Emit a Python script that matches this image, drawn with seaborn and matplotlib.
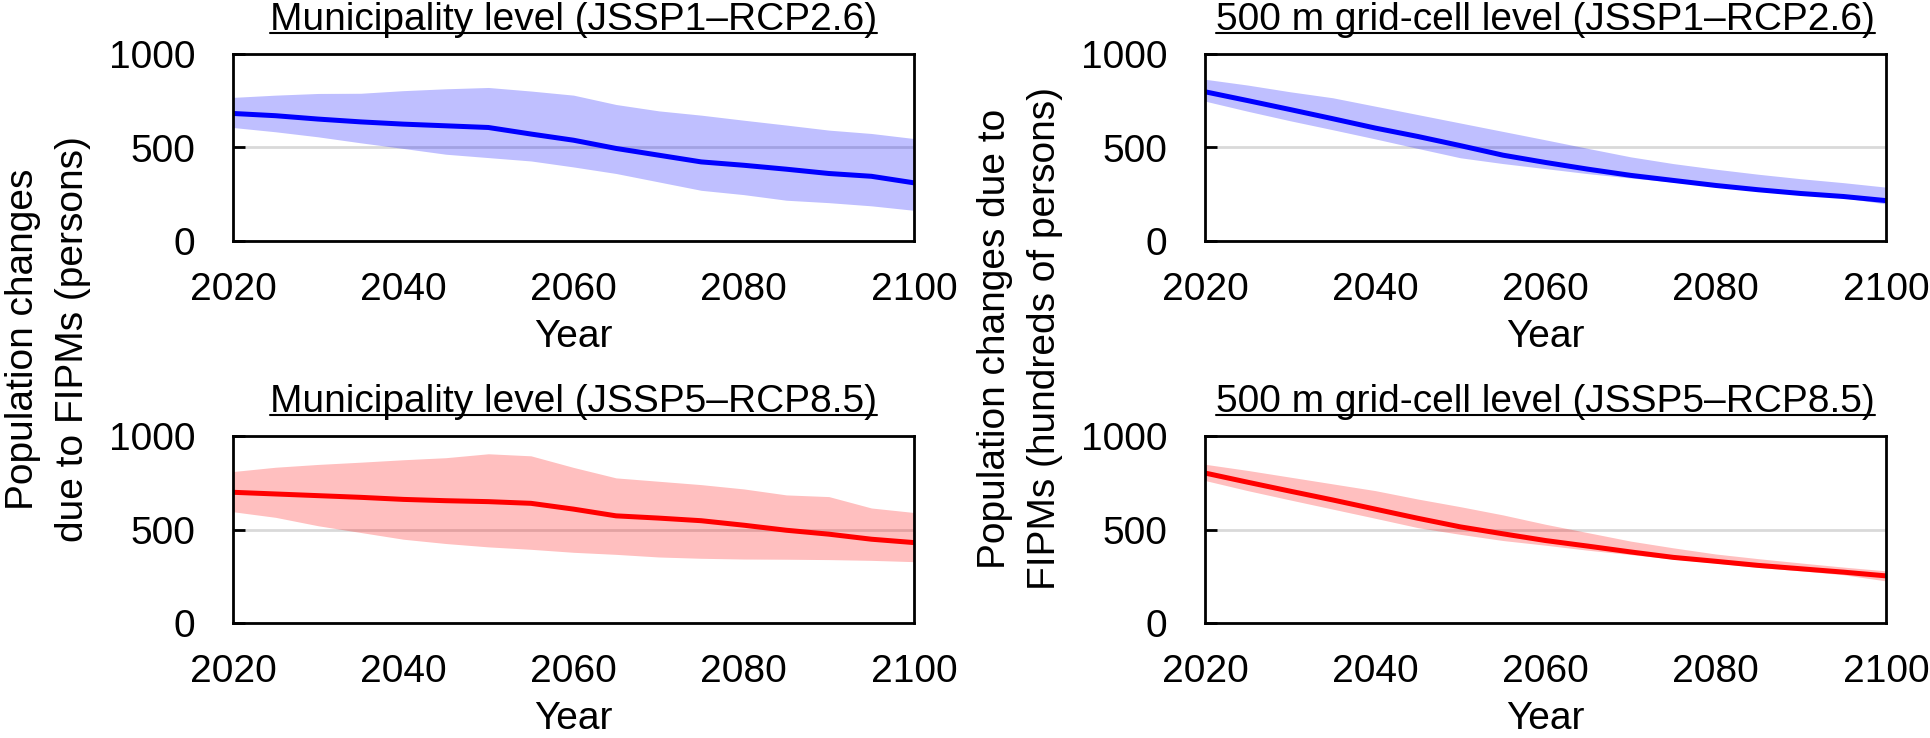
import numpy as np
import pandas as pd
import matplotlib
matplotlib.use('Agg')
import matplotlib.pyplot as plt
from matplotlib.lines import Line2D
import seaborn as sns

# Jahre (5-Jahres-Schritte)
years = list(range(2020, 2101, 5))

# Municipality level, JSSP1-RCP2.6 (persons)
muni_ssp1_mean = [682, 670, 652, 637, 625, 616, 607, 572, 539, 495, 459, 423, 405, 384, 361, 346, 311]
muni_ssp1_upper = [768, 780, 789, 790, 804, 814, 821, 802, 780, 730, 696, 673, 646, 620, 593, 575, 548]
muni_ssp1_lower = [607, 584, 557, 525, 495, 464, 446, 428, 396, 361, 316, 271, 248, 218, 205, 188, 164]

# 500 m grid-cell level, JSSP1-RCP2.6 (hundreds of persons)
grid_ssp1_mean = [798, 751, 703, 654, 604, 559, 510, 459, 420, 384, 351, 324, 297, 274, 254, 238, 216]
grid_ssp1_upper = [865, 834, 798, 766, 721, 676, 631, 586, 541, 495, 450, 414, 384, 357, 333, 312, 288]
grid_ssp1_lower = [748, 694, 643, 595, 546, 495, 445, 414, 387, 360, 337, 315, 294, 268, 249, 231, 198]

# Municipality level, JSSP5-RCP8.5 (persons)
muni_ssp5_mean = [699, 690, 681, 672, 661, 654, 649, 640, 609, 573, 561, 547, 523, 496, 475, 448, 430]
muni_ssp5_upper = [810, 833, 848, 860, 873, 884, 905, 894, 832, 776, 758, 740, 717, 685, 676, 615, 591]
muni_ssp5_lower = [595, 565, 520, 484, 448, 425, 407, 394, 378, 367, 353, 346, 342, 341, 339, 335, 328]

# 500 m grid-cell level, JSSP5-RCP8.5 (hundreds of persons)
grid_ssp5_mean = [802, 753, 705, 658, 609, 560, 514, 477, 441, 411, 380, 351, 330, 308, 290, 272, 252]
grid_ssp5_upper = [849, 816, 780, 744, 708, 663, 622, 578, 528, 483, 438, 402, 369, 344, 321, 299, 279]
grid_ssp5_lower = [762, 708, 658, 609, 560, 510, 474, 441, 416, 389, 366, 342, 321, 297, 279, 258, 225]

titles = ['Municipality level (JSSP1\u2013RCP2.6)', '500 m grid-cell level (JSSP1\u2013RCP2.6)',
          'Municipality level (JSSP5\u2013RCP8.5)', '500 m grid-cell level (JSSP5\u2013RCP8.5)']

sns.set_style('ticks')
plt.rcParams['font.family'] = ['Liberation Sans', 'DejaVu Sans']
plt.rcParams['font.size'] = 28
plt.rcParams['text.color'] = 'black'
plt.rcParams['axes.labelcolor'] = 'black'
plt.rcParams['xtick.color'] = 'black'
plt.rcParams['ytick.color'] = 'black'

W, H = 1931, 738
fig = plt.figure(figsize=(W / 100, H / 100), dpi=100)

# Achsenpositionen (Pixel des Originals)
col_x = [233 / W, 1205 / W]
col_w = 681 / W
row_y = [1 - 241 / H, 1 - 623 / H]
row_h = 187 / H

panels = [
    (0, 0, muni_ssp1_mean, muni_ssp1_lower, muni_ssp1_upper, 'blue'),
    (0, 1, grid_ssp1_mean, grid_ssp1_lower, grid_ssp1_upper, 'blue'),
    (1, 0, muni_ssp5_mean, muni_ssp5_lower, muni_ssp5_upper, 'red'),
    (1, 1, grid_ssp5_mean, grid_ssp5_lower, grid_ssp5_upper, 'red'),
]

axes = []
for i, (r, c, mean, lo, hi, col) in enumerate(panels):
    ax = fig.add_axes([col_x[c], row_y[r], col_w, row_h])
    df = pd.DataFrame({'Year': years, 'mean': mean, 'lo': lo, 'hi': hi})
    ax.set_axisbelow(True)
    ax.yaxis.grid(True, color='#d9d9d9', linewidth=2)
    ax.fill_between(df['Year'], df['lo'], df['hi'], color=col, alpha=0.25, linewidth=0)
    sns.lineplot(data=df, x='Year', y='mean', color=col, linewidth=3.6, ax=ax)
    ax.set_xlim(2020, 2100)
    ax.set_ylim(0, 1000)
    ax.set_xticks([2020, 2040, 2060, 2080, 2100])
    ax.set_yticks([0, 500, 1000])
    ax.tick_params(axis='x', length=0, pad=22, labelsize=28, colors='black')
    ax.tick_params(axis='y', direction='in', length=8.5, width=2, pad=27, labelsize=28, colors='black')
    for s in ax.spines.values():
        s.set_linewidth(2)
        s.set_color('black')
    ax.set_xlabel('Year', fontsize=28, labelpad=8, color='black')
    ax.set_ylabel('')
    ax.set_title(titles[i], fontsize=28, pad=17, color='black')
    axes.append(ax)

fig.text(48 / W, 1 - 339 / H, 'Population changes\ndue to FIPMs (persons)',
         rotation=90, ha='center', va='center', multialignment='center',
         fontsize=28, linespacing=1.5, color='black')
fig.text(1020 / W, 1 - 339 / H, 'Population changes due to\nFIPMs (hundreds of persons)',
         rotation=90, ha='center', va='center', multialignment='center',
         fontsize=28, linespacing=1.5, color='black')

# Titel unterstreichen
fig.canvas.draw()
rend = fig.canvas.get_renderer()
for ax in axes:
    bb = ax.title.get_window_extent(rend)
    y = bb.y0 + 5
    fig.add_artist(Line2D([bb.x0 / W, bb.x1 / W], [y / H, y / H],
                          transform=fig.transFigure, color='black', linewidth=1.5))

fig.savefig('out.png', dpi=100)
